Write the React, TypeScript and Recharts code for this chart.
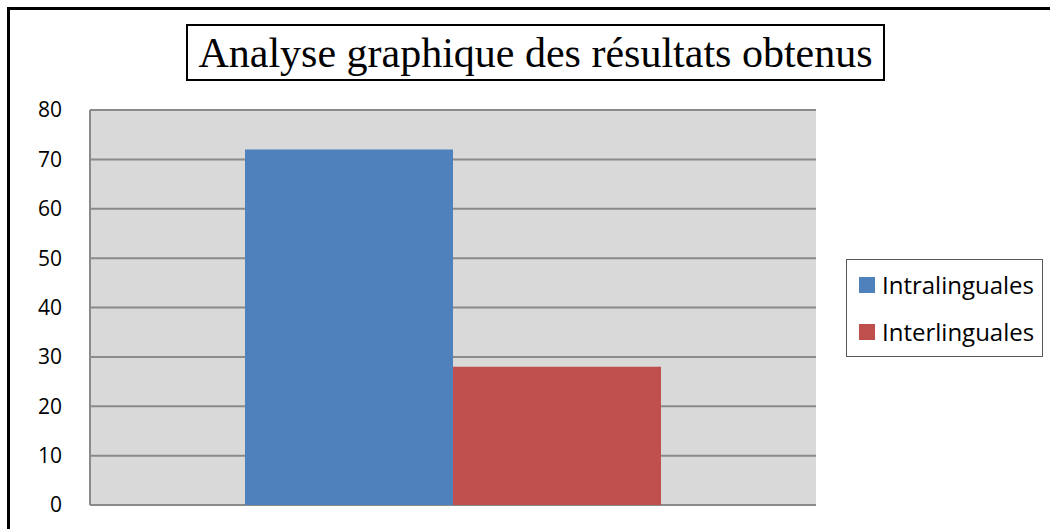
import { BarChart, Bar, XAxis, YAxis, CartesianGrid } from "recharts"

const categories = ["Résultats"]
const intralinguales = [72]
const interlinguales = [28]
const yTicks = [0, 10, 20, 30, 40, 50, 60, 70, 80]
const seriesNames = ["Intralinguales", "Interlinguales"]
const seriesColors = ["#4f81bd", "#c0504d"]

const data = categories.map((name, i) => ({
  name,
  Intralinguales: intralinguales[i],
  Interlinguales: interlinguales[i],
}))

const sansFont = "'Open Sans', 'Noto Sans', sans-serif"

const App = () => {
  return (
    <div style={{ position: "absolute", left: 0, top: 0, width: 1050, height: 529, background: "#fff", overflow: "hidden" }}>
      <div
        style={{
          position: "absolute",
          left: 7,
          top: 7,
          width: 1060,
          height: 540,
          borderLeft: "3px solid #000",
          borderTop: "3px solid #000",
        }}
      />
      <div
        style={{
          position: "absolute",
          left: 186,
          top: 24,
          width: 699,
          height: 57,
          boxSizing: "border-box",
          border: "2px solid #000",
          display: "flex",
          alignItems: "center",
          justifyContent: "center",
          fontFamily: "'Liberation Serif', 'DejaVu Serif', serif",
          fontSize: 42,
          color: "#000",
          whiteSpace: "nowrap",
        }}
      >
        Analyse graphique des résultats obtenus
      </div>
      <BarChart
        width={1050}
        height={529}
        data={data}
        margin={{ top: 110, right: 234, bottom: 24, left: 30 }}
        barGap={0}
        barCategoryGap={155}
        style={{ position: "absolute", left: 0, top: 0 }}
      >
        <CartesianGrid vertical={false} fill="#d9d9d9" stroke="#8a8a8a" strokeWidth={2} />
        <XAxis dataKey="name" hide />
        <YAxis
          width={60}
          domain={[0, 80]}
          ticks={yTicks}
          interval={0}
          axisLine={{ stroke: "#8a8a8a", strokeWidth: 2 }}
          tickLine={false}
          tickSize={0}
          tickMargin={28}
          tick={{ fill: "#000", fontSize: 21, fontFamily: sansFont }}
        />
        <Bar dataKey="Intralinguales" fill={seriesColors[0]} isAnimationActive={false} />
        <Bar dataKey="Interlinguales" fill={seriesColors[1]} isAnimationActive={false} />
      </BarChart>
      <div
        style={{
          position: "absolute",
          left: 846,
          top: 259,
          width: 197,
          height: 98,
          boxSizing: "border-box",
          border: "1px solid #595959",
          background: "#fff",
          paddingTop: 1,
          paddingLeft: 12,
          fontFamily: sansFont,
          fontSize: 24,
          color: "#000",
        }}
      >
        {seriesNames.map((name, i) => (
          <div key={name} style={{ display: "flex", alignItems: "center", height: 47, whiteSpace: "nowrap" }}>
            <span style={{ width: 16, height: 16, background: seriesColors[i], marginRight: 7, display: "inline-block" }} />
            <span>{name}</span>
          </div>
        ))}
      </div>
    </div>
  )
}

export default App
